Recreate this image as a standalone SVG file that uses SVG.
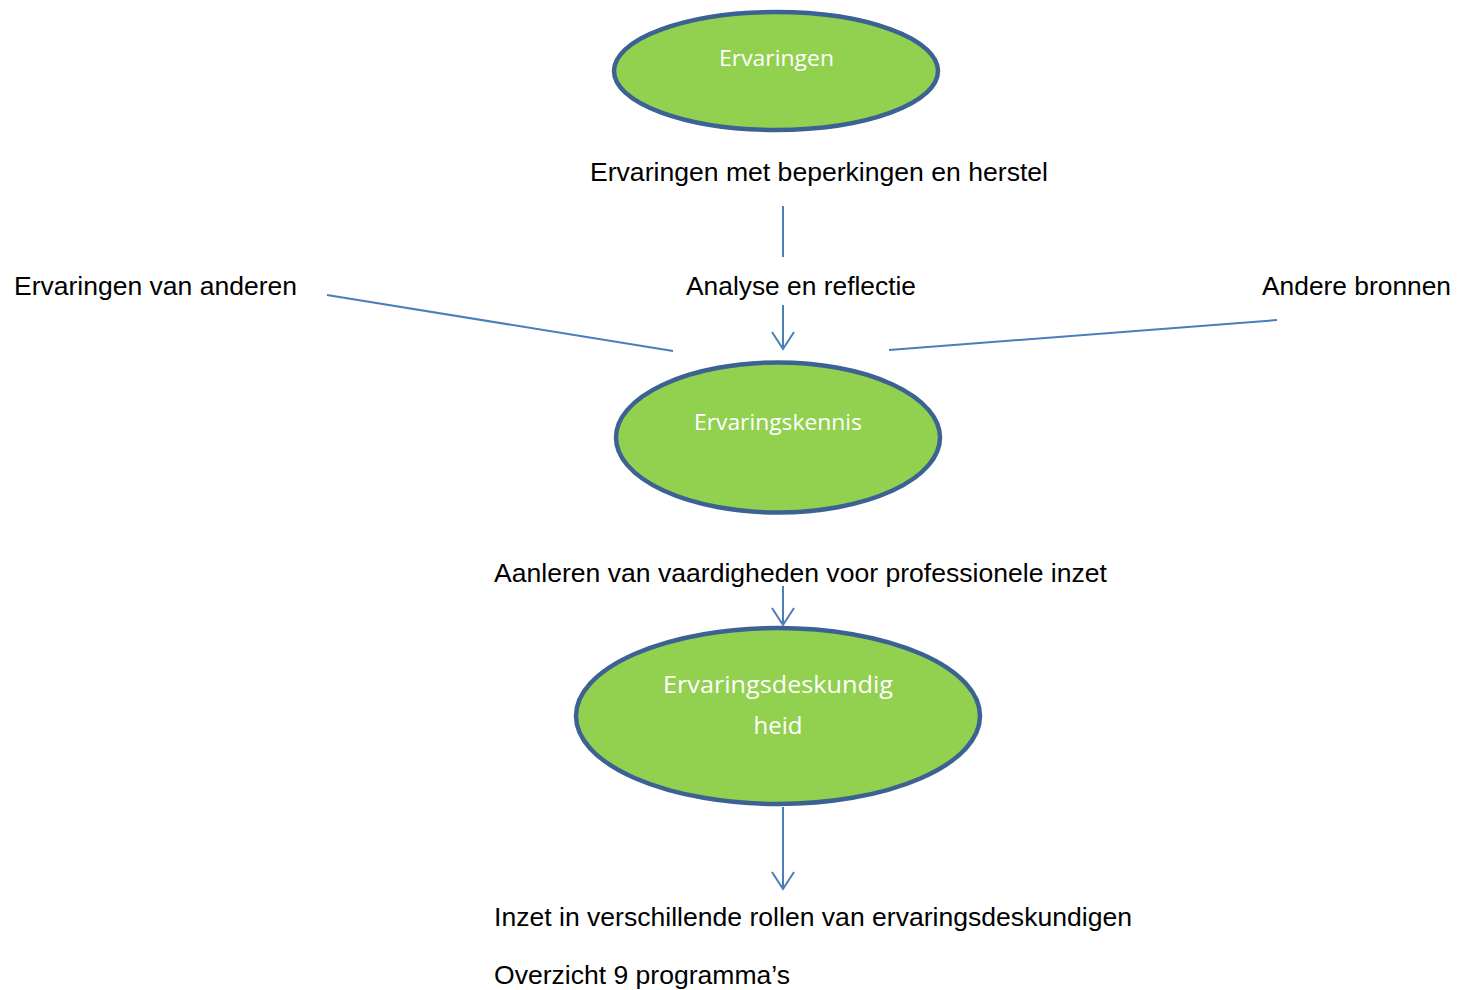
<svg xmlns="http://www.w3.org/2000/svg" width="1458" height="990" viewBox="0 0 1458 990">
<style>
.node{fill:#92d050;stroke:#3c6293;stroke-width:4.5}
.nt{font-family:"Open Sans","Noto Sans",sans-serif;font-size:21px;fill:#ffffff;text-anchor:middle}
.lb{font-family:"Liberation Sans",Arial,sans-serif;font-size:25px;fill:#000000}
.c{stroke:#4a7ebb;stroke-width:2;fill:none}
</style>
<defs>
<marker id="ah" markerUnits="userSpaceOnUse" markerWidth="22" markerHeight="26" refX="18" refY="12" orient="auto" viewBox="0 0 22 26">
<path d="M1,1 L18,12 L1,23" fill="none" stroke="#4a7ebb" stroke-width="2"/>
</marker>
</defs>
<rect width="1458" height="990" fill="#ffffff"/>
<g id="connectors">
<line class="c" x1="783" y1="206" x2="783" y2="257"/>
<path class="c" d="M783,305 L783,349" marker-end="url(#ah)"/>
<line class="c" x1="327" y1="295" x2="673" y2="351"/>
<line class="c" x1="889" y1="350" x2="1277" y2="320"/>
<path class="c" d="M783,586 L783,625" marker-end="url(#ah)"/>
<path class="c" d="M783,807 L783,889" marker-end="url(#ah)"/>
</g>
<g id="n-ervaringen">
<ellipse class="node" cx="776" cy="71" rx="162" ry="59"/>
<text class="nt" x="776.5" y="66" textLength="115" lengthAdjust="spacingAndGlyphs">Ervaringen</text>
</g>
<g id="n-ervaringskennis">
<ellipse class="node" cx="778" cy="437.5" rx="162" ry="75"/>
<text class="nt" x="778" y="430" textLength="168" lengthAdjust="spacingAndGlyphs">Ervaringskennis</text>
</g>
<g id="n-ervaringsdeskundigheid">
<ellipse class="node" cx="778" cy="716" rx="202" ry="88"/>
<text class="nt" x="778" y="693" style="font-size:24px" textLength="230" lengthAdjust="spacingAndGlyphs">Ervaringsdeskundig</text>
<text class="nt" x="778" y="734" style="font-size:24px">heid</text>
</g>
<g id="labels">
<text class="lb" x="590" y="181" textLength="458" lengthAdjust="spacingAndGlyphs">Ervaringen met beperkingen en herstel</text>
<text class="lb" x="14" y="295" textLength="283" lengthAdjust="spacingAndGlyphs">Ervaringen van anderen</text>
<text class="lb" x="686" y="295" textLength="230" lengthAdjust="spacingAndGlyphs">Analyse en reflectie</text>
<text class="lb" x="1262" y="295" textLength="189" lengthAdjust="spacingAndGlyphs">Andere bronnen</text>
<text class="lb" x="494" y="582" textLength="613" lengthAdjust="spacingAndGlyphs">Aanleren van vaardigheden voor professionele inzet</text>
<text class="lb" x="494" y="926" textLength="638" lengthAdjust="spacingAndGlyphs">Inzet in verschillende rollen van ervaringsdeskundigen</text>
<text class="lb" x="494" y="984" textLength="296" lengthAdjust="spacingAndGlyphs">Overzicht 9 programma’s</text>
</g>
</svg>
